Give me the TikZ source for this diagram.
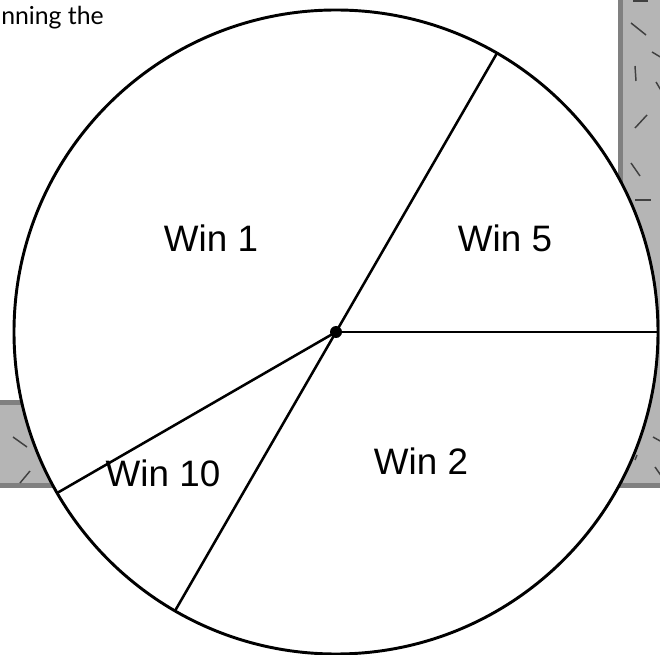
\documentclass[tikz,border=0pt]{standalone}
\usepackage{fontspec}
\setmainfont{Liberation Sans}
\newfontfamily\captionfont{Lato}
\usepackage{xcolor}
\usepackage{tikz}
\usetikzlibrary{positioning}

\definecolor{panelgray}{HTML}{B5B5B5}
\definecolor{paneledge}{HTML}{808080}

\begin{document}
\begin{tikzpicture}[
    x=0.75pt, y=0.75pt,
    wheel/.style={draw, circle, fill=white, line width=2.2pt, inner sep=0pt, outer sep=0pt, minimum size=483pt},
    spoke/.style={line width=1.9pt},
    prize/.style={font=\fontsize{27.6}{30}\selectfont},
    speck/.style={draw=black!75, line width=1.1pt}
]
\clip (0,0) rectangle (660,654);

% Side panels
\fill[panelgray] (618,166) rectangle (670,664);
\fill[paneledge] (618,166) rectangle (623,664);
\fill[paneledge] (618,166) rectangle (670,171);
\fill[panelgray] (-10,166) rectangle (200,254);
\fill[paneledge] (-10,249) rectangle (200,254);
\fill[paneledge] (-10,166) rectangle (200,171);
\foreach \a/\b in {{(633,653)}/{(648,653)}, {(631,631)}/{(646,619)}, {(652,602)}/{(662,596)},
                   {(635,588)}/{(636,573)}, {(656,572)}/{(662,562)}, {(635,526)}/{(647,539)},
                   {(631,491)}/{(640,478)}, {(635,454)}/{(651,454)}, {(653,217)}/{(662,212)},
                   {(655,187)}/{(662,177)}, {(635,194)}/{(637,199)},
                   {(13,217)}/{(27,207)}, {(20,171)}/{(30,183)}}
  \draw[speck] \a -- \b;

% Caption
\node[anchor=base west, inner sep=0pt, font=\captionfont\fontsize{18.6}{20}\selectfont] (caption) at (1,629) {nning the};

% Wheel
\node[wheel] (wheel) at (336,322) {};
\coordinate (hub) at (wheel.center);
\draw[spoke] (hub) -- (wheel.60);
\draw[spoke] (hub) -- (wheel.0);
\draw[spoke] (hub) -- (wheel.210);
\draw[spoke] (hub) -- (wheel.240);
\fill (hub) circle (6);

% Prizes
\node[prize] (win1) at (211,416) {Win 1};
\node[prize] (win5) at (505,416) {Win 5};
\node[prize] (win2) at (421,193) {Win 2};
\node[prize] (win10) at (163,181) {Win 10};

\end{tikzpicture}
\end{document}
